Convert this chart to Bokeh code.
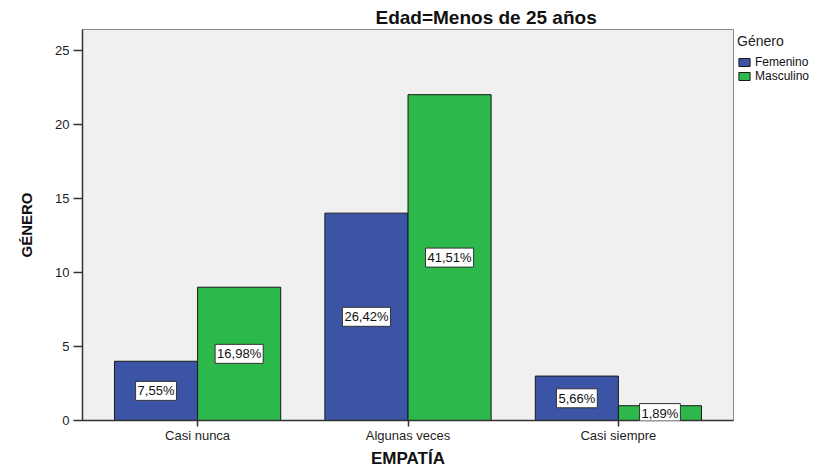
from bokeh.plotting import figure
from bokeh.models import (ColumnDataSource, Label, Legend, LegendItem,
                          FixedTicker, Range1d)
from bokeh.embed import file_html
from bokeh.resources import INLINE

# ---- data ----
categories = ["Casi nunca", "Algunas veces", "Casi siempre"]
femenino = [4, 14, 3]
masculino = [9, 22, 1]
fem_pct = ["7,55%", "26,42%", "5,66%"]
masc_pct = ["16,98%", "41,51%", "1,89%"]
y_ticks = [0, 5, 10, 15, 20, 25]
series_names = ["Femenino", "Masculino"]
title_text = "Edad=Menos de 25 años"
x_title = "EMPATÍA"
y_title = "GÉNERO"
legend_title = "Género"

FONT = "Liberation Sans"
BLUE = "#3b54a5"
GREEN = "#2db84b"
TXT = "#1e1e1e"

BAR_W = 0.395
idx = list(range(len(categories)))

src_f = ColumnDataSource(dict(
    x=[i - BAR_W / 2 for i in idx], top=femenino,
    mid=[v / 2 for v in femenino], lab=fem_pct))
src_m = ColumnDataSource(dict(
    x=[i + BAR_W / 2 for i in idx], top=masculino,
    mid=[v / 2 for v in masculino], lab=masc_pct))

p = figure(frame_width=651, frame_height=391,
           output_backend="svg", toolbar_location=None,
           title=title_text,
           x_range=Range1d(-0.547, 2.547), y_range=Range1d(0, 26.4),
           min_border_left=82, min_border_right=100,
           min_border_top=29, min_border_bottom=46)

p.title.align = "left"
p.title.offset = 293
p.title.standoff = 3
p.title.text_font = FONT
p.title.text_font_style = "bold"
p.title.text_font_size = "19px"
p.title.text_color = "#111111"

p.background_fill_color = "#f0f0f0"
p.border_fill_color = "white"
p.outline_line_color = "#8a8a8a"
p.outline_line_width = 1
p.xgrid.visible = False
p.ygrid.visible = False

r_f = p.vbar(x="x", top="top", bottom=0, width=BAR_W, source=src_f,
             fill_color=BLUE, line_color="#1a1a1a", line_width=1)
r_m = p.vbar(x="x", top="top", bottom=0, width=BAR_W, source=src_m,
             fill_color=GREEN, line_color="#1a1a1a", line_width=1)

for src in (src_f, src_m):
    d = src.data
    for xx, yy, tt in zip(d["x"], d["mid"], d["lab"]):
        p.add_layout(Label(x=xx, y=yy, text=tt,
                           text_align="center", text_baseline="middle",
                           text_font=FONT, text_font_size="13px",
                           text_color="#111111",
                           background_fill_color="white",
                           border_line_color="#333333", border_line_width=1,
                           padding=2))

# axes
xa = p.xaxis[0]
xa.ticker = FixedTicker(ticks=idx)
xa.major_label_overrides = {i: c for i, c in zip(idx, categories)}
xa.minor_tick_line_color = None
xa.major_tick_out = 6
xa.major_tick_in = 0
xa.major_label_standoff = 1
xa.axis_line_color = "#333333"
xa.axis_line_width = 1.5
xa.major_tick_line_color = "#333333"
xa.major_tick_line_width = 1.5
xa.major_label_text_font = FONT
xa.major_label_text_font_size = "13px"
xa.major_label_text_color = TXT
xa.axis_label = x_title
xa.axis_label_text_font = FONT
xa.axis_label_text_font_style = "bold"
xa.axis_label_text_font_size = "17px"
xa.axis_label_text_color = "#111111"
xa.axis_label_standoff = 3

ya = p.yaxis[0]
ya.ticker = FixedTicker(ticks=y_ticks)
ya.minor_tick_line_color = None
ya.major_tick_out = 9
ya.major_tick_in = 0
ya.major_label_standoff = 4
ya.axis_line_color = "#333333"
ya.axis_line_width = 1.5
ya.major_tick_line_color = "#333333"
ya.major_tick_line_width = 1.5
ya.major_label_text_font = FONT
ya.major_label_text_font_size = "13px"
ya.major_label_text_color = TXT
ya.axis_label = y_title
ya.axis_label_text_font = FONT
ya.axis_label_text_font_style = "bold"
ya.axis_label_text_font_size = "15px"
ya.axis_label_text_color = "#111111"
ya.axis_label_standoff = 17

legend = Legend(items=[LegendItem(label=series_names[0], renderers=[r_f]),
                       LegendItem(label=series_names[1], renderers=[r_m])],
                location="top_left", title=legend_title,
                title_text_font=FONT, title_text_font_size="14px",
                title_text_font_style="normal", title_text_color="#222222",
                title_standoff=6,
                label_text_font=FONT, label_text_font_size="12px",
                label_text_color="#111111",
                glyph_width=14, glyph_height=10, label_height=12,
                label_standoff=4, spacing=0, padding=2, margin=4,
                border_line_color=None, background_fill_alpha=0)
p.add_layout(legend, "right")

open("out.html", "w").write(file_html(p, INLINE))
